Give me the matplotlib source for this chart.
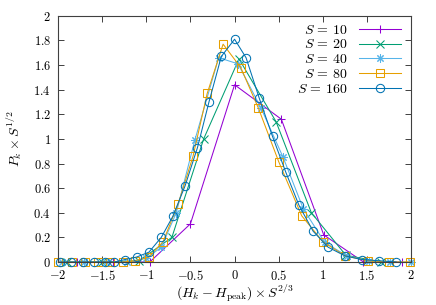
import matplotlib
matplotlib.use("Agg")
import matplotlib.pyplot as plt
from matplotlib.ticker import MultipleLocator, FuncFormatter

plt.rcParams['mathtext.fontset'] = 'cm'
plt.rcParams['font.family'] = 'serif'
plt.rcParams['font.serif'] = ['DejaVu Serif']

# S = 10
x10 = [-1.79, -1.38, -0.96, -0.50, 0.00, 0.53, 1.01, 1.46, 1.90]
y10 = [0.0, 0.0, 0.0, 0.31, 1.44, 1.16, 0.22, 0.0, 0.0]
# S = 20
x20 = [-1.90, -1.50, -1.08, -0.71, -0.35, 0.05, 0.47, 0.87, 1.26, 1.66]
y20 = [0.0, 0.0, 0.01, 0.20, 1.00, 1.65, 1.14, 0.40, 0.055, 0.0]
# S = 40
x40 = [-1.96, -1.71, -1.46, -1.22, -1.00, -0.83, -0.66, -0.45, -0.18,
       0.04, 0.30, 0.55, 0.78, 1.02, 1.27, 1.52, 1.76, 2.00]
y40 = [0.0, 0.0, 0.0, 0.0, 0.03, 0.12, 0.40, 0.99, 1.66,
       1.61, 1.25, 0.85, 0.43, 0.16, 0.05, 0.01, 0.0, 0.0]
# S = 80
x80 = [-2.00, -1.84, -1.69, -1.55, -1.41, -1.26, -1.13, -0.97, -0.81, -0.64,
       -0.47, -0.31, -0.13, 0.07, 0.27, 0.50, 0.76, 1.00, 1.25, 1.51, 1.75, 1.99]
y80 = [0.0, 0.0, 0.0, 0.0, 0.0, 0.0, 0.01, 0.04, 0.165, 0.47,
       0.86, 1.37, 1.77, 1.58, 1.25, 0.815, 0.376, 0.165, 0.05, 0.01, 0.0, 0.0]
# S = 160
x160 = [-1.98, -1.85, -1.72, -1.59, -1.47, -1.36, -1.24, -1.11, -0.97, -0.83,
        -0.70, -0.56, -0.42, -0.29, -0.15, 0.00, 0.13, 0.28, 0.43, 0.58,
        0.73, 0.89, 1.06, 1.25, 1.44, 1.64, 1.83]
y160 = [0.0, 0.0, 0.0, 0.0, 0.0, 0.0, 0.02, 0.04, 0.08, 0.20,
        0.37, 0.62, 0.93, 1.30, 1.67, 1.81, 1.66, 1.33, 1.02, 0.73,
        0.46, 0.25, 0.12, 0.05, 0.02, 0.01, 0.0]

series = [
    (x10, y10, '+', '#9400d3', r'$S\,=\,10$'),
    (x20, y20, 'x', '#009e73', r'$S\,=\,20$'),
    (x40, y40, (8, 2, 0), '#56b4e9', r'$S\,=\,40$'),
    (x80, y80, 's', '#e69f00', r'$S\,=\,80$'),
    (x160, y160, 'o', '#0072b2', r'$S\,=\,160$'),
]

fig = plt.figure(figsize=(4.36, 3.05), dpi=100)
ax = fig.add_axes([0.133, 0.141, 0.810, 0.807])

for xs, ys, mk, col, lab in series:
    ax.plot(xs, ys, color=col, lw=0.75, marker=mk, ms=6, mew=0.75,
            mfc='none', label=lab, clip_on=False)

ax.set_xlim(-2, 2)
ax.set_ylim(0, 2)
ax.xaxis.set_major_locator(MultipleLocator(0.5))
ax.yaxis.set_major_locator(MultipleLocator(0.2))
fmt = FuncFormatter(lambda v, p: r'$%g$' % round(v, 2))
ax.xaxis.set_major_formatter(fmt)
ax.yaxis.set_major_formatter(fmt)
ax.tick_params(direction='in', top=True, right=True, length=4, width=0.7,
               color='#404040', labelsize=9, pad=5)
for s in ax.spines.values():
    s.set_color('#404040')
    s.set_linewidth(0.8)

ax.set_xlabel(r'$(H_k - H_{\rm peak}) \times S^{2/3}$', fontsize=10, labelpad=0)
ax.set_ylabel(r'$P_k \times S^{1/2}$', fontsize=10, labelpad=7)

leg = ax.legend(loc='upper right', frameon=False, markerfirst=False,
                fontsize=10, handlelength=3.0, labelspacing=0.05,
                handletextpad=0.8, borderaxespad=0.1,
                bbox_to_anchor=(0.99, 1.0))

fig.savefig('out.png', dpi=100)
